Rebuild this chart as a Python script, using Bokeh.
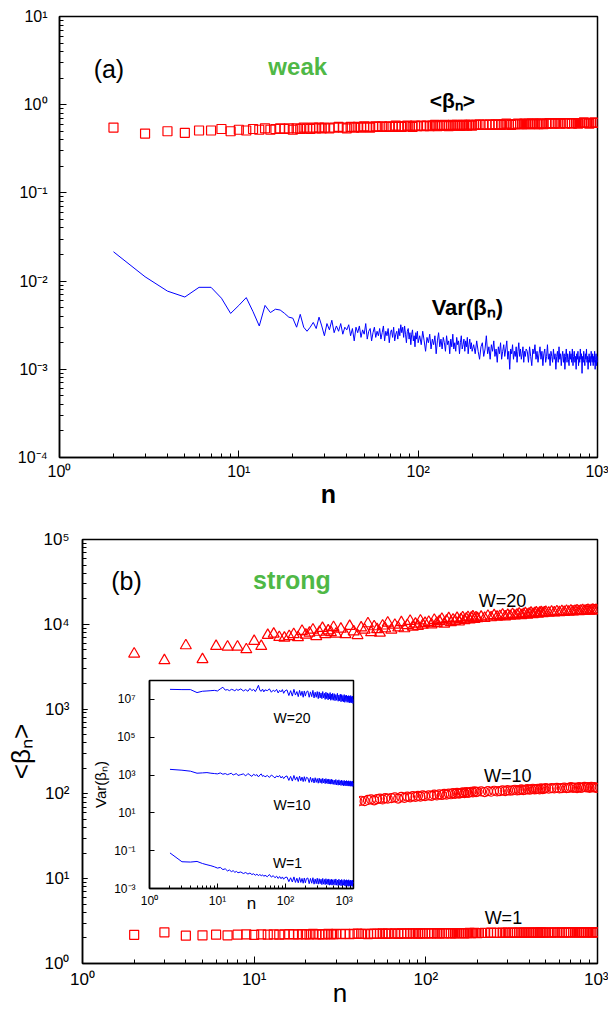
from bokeh.plotting import figure
from bokeh.models import FixedTicker, CustomJSTickFormatter, Label, Range1d
from bokeh.embed import file_html
from bokeh.resources import INLINE

FONT = "Liberation Sans"
GREEN = "#4fb846"
RED = "#ff0000"
BLUE = "#0000ff"

# ---------------- data ----------------
# n samples used for the marker series (panels a and b)
n_marker = (list(range(2, 31)) + list(range(32, 61, 2)) + list(range(63, 100, 3))
            + list(range(104, 201, 4)) + list(range(210, 501, 10)) + list(range(520, 1001, 20)))
# n samples used for Var line of panel (a)
n_var = (list(range(2, 101)) + list(range(102, 201, 2)) + list(range(204, 401, 4))
         + list(range(406, 1001, 6)))
# n samples used for inset lines
n_inset = (list(range(2, 21)) + list(range(22, 51, 2)) + list(range(54, 99, 4))
           + list(range(105, 204, 7)) + list(range(213, 504, 10)) + list(range(520, 1001, 15)))

# panel (a): <beta_n>, weak disorder
mean_weak = [
    0.55, 0.47, 0.50, 0.48, 0.51, 0.51, 0.53, 0.50, 0.52, 0.51, 0.53, 0.52, 0.54, 0.52, 0.53,
    0.54, 0.53, 0.54, 0.52, 0.54, 0.53, 0.55, 0.54, 0.53, 0.55, 0.54, 0.55, 0.54, 0.55,
    0.54, 0.55, 0.56, 0.55, 0.54, 0.56, 0.55, 0.56, 0.55, 0.57, 0.56, 0.55, 0.56, 0.57, 0.56,
    0.57, 0.56, 0.57, 0.56, 0.58, 0.57, 0.56, 0.57, 0.58, 0.57, 0.56, 0.58, 0.57,
    0.58, 0.57, 0.58, 0.57, 0.58, 0.59, 0.57, 0.58, 0.58, 0.59, 0.58, 0.57, 0.58, 0.59, 0.58,
    0.59, 0.58, 0.58, 0.59, 0.58, 0.59, 0.58, 0.59, 0.59, 0.58,
    0.59, 0.60, 0.59, 0.59, 0.60, 0.59, 0.60, 0.60, 0.59, 0.60, 0.61, 0.60, 0.59, 0.60, 0.60,
    0.61, 0.60, 0.60, 0.61, 0.60, 0.61, 0.60, 0.61, 0.61, 0.60, 0.61, 0.60, 0.61, 0.61, 0.60,
    0.61, 0.62, 0.61, 0.61, 0.62, 0.61, 0.62, 0.61, 0.62, 0.62, 0.61, 0.62, 0.62, 0.61, 0.62,
    0.62, 0.63, 0.62, 0.62, 0.61, 0.62, 0.62, 0.63, 0.62, 0.62,
]

# panel (a): Var(beta_n), weak disorder
var_weak = [
    0.0215, 0.0112, 0.0077, 0.0066, 0.0085, 0.0085, 0.0064, 0.0043, 0.0053, 0.0065, 0.0045, 0.0031,
    0.0053, 0.0044, 0.0048, 0.0047, 0.0043, 0.0039, 0.0038, 0.0030, 0.0042, 0.0030, 0.0027, 0.0030,
    0.0034, 0.0029, 0.0039, 0.0031, 0.0024, 0.0033, 0.0028, 0.0036, 0.0026, 0.0031, 0.0027, 0.0033,
    0.0025, 0.0030, 0.0028,
    0.0032, 0.0024, 0.0029, 0.0021, 0.0030, 0.0026, 0.0031, 0.0023, 0.0028, 0.0025,
    0.0033, 0.0022, 0.0027, 0.0029, 0.0021, 0.0026, 0.0030, 0.0023, 0.0027, 0.0024,
    0.0029, 0.0022, 0.0026, 0.0031, 0.0021, 0.0027, 0.0024, 0.0029, 0.0020, 0.0026,
    0.0028, 0.0023, 0.0030, 0.0021, 0.0025, 0.0027, 0.0022, 0.0029, 0.0024, 0.0032,
    0.0026, 0.0030, 0.0023, 0.0031, 0.0025, 0.0020, 0.0027, 0.0029, 0.0022, 0.0026,
    0.0019, 0.0025, 0.0028, 0.0021, 0.0024, 0.0018, 0.0026, 0.0022, 0.0027, 0.0020,
    0.0024, 0.0019, 0.0027, 0.0021, 0.0016, 0.0023, 0.0020, 0.0025, 0.0017, 0.0022,
    0.0019, 0.0024, 0.0015, 0.0021, 0.0026, 0.0018, 0.0022, 0.0017, 0.0023, 0.0020,
    0.0016, 0.0024, 0.0019, 0.0021, 0.0015, 0.0022, 0.0018, 0.0025, 0.0017, 0.0020,
    0.0016, 0.0023, 0.0019, 0.0021, 0.0015, 0.0020, 0.0024, 0.0017, 0.0019, 0.0022,
    0.0016, 0.0021, 0.0018, 0.0023, 0.0015, 0.0019, 0.0022, 0.0017, 0.0020, 0.0016,
    0.0019, 0.0015, 0.0021, 0.0016, 0.0013, 0.0018, 0.0020, 0.0014, 0.0017, 0.0024,
    0.0015, 0.0018, 0.0013, 0.0019, 0.0016, 0.0021, 0.0014, 0.0017, 0.0012, 0.0018,
    0.0015, 0.0020, 0.0013, 0.0016, 0.0019, 0.0014, 0.0017, 0.0021, 0.0013, 0.0016,
    0.0010, 0.0017, 0.0015, 0.0019, 0.0013, 0.0016, 0.0014, 0.0018, 0.0012, 0.0016,
    0.0020, 0.0014, 0.0017, 0.0013, 0.0015, 0.0018, 0.0012, 0.0016, 0.0014, 0.0017,
    0.0016, 0.0012, 0.0018, 0.0014, 0.0011, 0.0017, 0.0015, 0.0019, 0.0013, 0.0016,
    0.0012, 0.0015, 0.0018, 0.0013, 0.0016, 0.0011, 0.0015, 0.0017, 0.0012, 0.0014,
    0.0019, 0.0013, 0.0015, 0.0011, 0.0016, 0.0014, 0.0012, 0.0017, 0.0013, 0.0015,
    0.0010, 0.0014, 0.0016, 0.0012, 0.0018, 0.0013, 0.0015, 0.0011, 0.0014, 0.0016,
    0.0012, 0.0015, 0.0010, 0.0014, 0.0017, 0.0012, 0.0015, 0.0013, 0.0011, 0.0016,
    0.0013, 0.0015, 0.0012, 0.0017, 0.0011, 0.0014, 0.0016, 0.0012, 0.0014, 0.0010,
    0.0015, 0.0013, 0.0016, 0.0011, 0.0014, 0.0012, 0.0017, 0.0013, 0.0015, 0.0009,
    0.0014, 0.0012, 0.0016, 0.0013, 0.0011, 0.0015, 0.0013, 0.0017, 0.0012, 0.0014,
    0.0010, 0.0013, 0.0015, 0.0012, 0.0014, 0.0011, 0.0016, 0.0013, 0.0012, 0.0015,
    0.0011, 0.0014, 0.0012, 0.0016, 0.0010, 0.0013, 0.0015, 0.0011, 0.0014, 0.0012,
]

# panel (b): <beta_n>, strong disorder, W = 20, 10, 1
mean_w20 = [
    4480, 3740, 5610, 3850, 5510, 5410, 5410, 5040, 6310, 5510, 7430, 7690, 7030, 6900, 7200,
    7600, 7000, 8300, 7500, 7900, 8600, 7200, 8100, 9000, 7600, 8400, 8000, 9200, 7700,
    8800, 7600, 9500, 8200, 7400, 9100, 8600, 10200, 8000, 9400, 8700, 7900, 9600, 8900, 10400,
    8600, 9800, 9100, 10500, 8900, 9700, 10900, 9300, 10100, 9500, 11000, 9800, 10300,
    10600, 9900, 11200, 10300, 10800, 11500, 10100, 11000, 11700, 10500,
    11300, 10900, 11800, 10700, 11400, 12000, 11100, 11600, 12100, 11300,
    11900, 12300, 11500, 12000, 11700,
    12200, 11800, 12500, 12000, 12700, 12200, 12400, 12900, 12300, 12800,
    12500, 13100, 12600, 12900, 13300, 12700, 13100, 13400, 12900, 13300,
    13600, 13100, 13400, 13700, 13200, 13600, 13800, 13400, 13700, 13900,
    13600, 14000, 13700, 14100, 13800, 14200, 13900, 14300, 14000, 14400,
    14100, 14300, 14500, 14200, 14400, 14600, 14300, 14500, 14700, 14400,
    14600, 14800, 14500, 14700, 14500,
]
mean_w10 = [
    50, 47, 53, 52, 55, 57, 56, 59, 60, 58, 62, 63, 61, 65, 64, 66, 67, 65, 69, 68,
    70, 71, 69, 72, 73, 71, 74, 75, 73,
    76, 78, 77, 82, 81, 83, 82, 85, 86, 84, 87, 88, 86, 89, 88,
    89, 91, 88, 92, 90, 93, 91, 94, 92, 95, 93, 96, 94,
    96, 95, 98, 96, 99, 97, 100, 98, 101, 99, 102, 100, 103, 101, 102, 104, 102, 105, 103, 104,
    106, 104, 107, 105, 106,
    107, 105, 108, 106, 109, 107, 108, 110, 108, 111, 109, 110, 112, 110, 111,
    113, 111, 112, 114, 112, 113, 115, 113, 114, 115, 113, 116, 114, 115, 117,
    115, 117, 116, 118, 116, 117, 119, 117, 118, 120, 118, 119, 117, 120, 118,
    119, 121, 119, 120, 118, 121, 119, 120, 118, 118,
]
mean_w1 = [
    2.18, 2.33, 2.13, 2.15, 2.19, 2.15, 2.19, 2.20, 2.18, 2.20, 2.19, 2.21, 2.19, 2.20, 2.22,
    2.20, 2.21, 2.22, 2.20, 2.21, 2.23, 2.21, 2.22, 2.20, 2.22, 2.23, 2.21, 2.22, 2.23,
    2.22, 2.24, 2.22, 2.23, 2.25, 2.23, 2.24, 2.22, 2.24, 2.25, 2.23, 2.24, 2.26, 2.24, 2.25,
    2.25, 2.26, 2.24, 2.26, 2.27, 2.25, 2.26, 2.27, 2.26, 2.25, 2.27, 2.26, 2.27,
    2.27, 2.26, 2.28, 2.27, 2.26, 2.28, 2.27, 2.28, 2.29, 2.27, 2.28, 2.27, 2.29, 2.28, 2.29,
    2.28, 2.27, 2.29, 2.28, 2.30, 2.28, 2.29, 2.30, 2.29, 2.28,
    2.29, 2.30, 2.29, 2.31, 2.30, 2.29, 2.30, 2.31, 2.30, 2.31, 2.30, 2.32, 2.30, 2.31, 2.31,
    2.30, 2.32, 2.31, 2.31, 2.32, 2.30, 2.31, 2.32, 2.31, 2.32, 2.31, 2.33, 2.31, 2.32, 2.32,
    2.32, 2.31, 2.33, 2.32, 2.32, 2.33, 2.31, 2.32, 2.33, 2.32, 2.34, 2.32, 2.33, 2.32, 2.33,
    2.34, 2.32, 2.33, 2.33, 2.34, 2.32, 2.33, 2.34, 2.33, 2.33,
]

# inset: Var(beta_n), strong disorder
var_w20 = [
    3.4e7, 3.3e7, 3.3e7, 2.3e7, 2.7e7, 2.8e7, 2.9e7, 3.0e7, 2.8e7, 3.6e7,
    4.4e7, 3.1e7, 3.3e7, 2.9e7, 3.4e7, 3.2e7, 2.8e7, 3.5e7, 3.0e7,
    3.6e7, 2.8e7, 3.3e7, 2.7e7, 3.8e7, 2.9e7, 3.4e7, 2.6e7, 3.7e7, 5.6e7, 3.0e7, 2.7e7, 3.5e7,
    2.5e7, 3.2e7,
    2.9e7, 3.6e7, 2.4e7, 3.1e7, 2.6e7, 3.4e7, 2.2e7, 3.0e7, 2.5e7, 3.3e7, 2.1e7, 2.8e7,
    3.2e7, 1.6e7, 2.9e7, 1.5e7, 3.4e7, 1.7e7, 2.6e7, 1.4e7, 3.0e7, 1.6e7, 2.7e7, 1.3e7, 2.8e7,
    1.5e7, 2.5e7,
    2.8e7, 1.3e7, 2.5e7, 1.4e7, 3.0e7, 1.2e7, 2.4e7, 1.3e7, 2.6e7, 1.1e7,
    2.5e7, 1.2e7, 2.2e7, 1.1e7, 2.6e7, 1.2e7, 2.1e7, 1.0e7, 2.4e7, 1.1e7,
    2.2e7, 0.95e7, 2.0e7, 1.05e7, 2.3e7, 0.9e7, 1.9e7, 1.0e7, 2.1e7, 0.9e7,
    2.0e7, 0.85e7, 1.8e7, 0.9e7, 2.1e7, 0.8e7, 1.7e7, 0.85e7, 1.9e7, 0.75e7,
    1.8e7, 0.8e7, 1.6e7, 0.75e7, 1.8e7, 0.7e7, 1.6e7, 0.8e7, 1.7e7, 0.7e7,
    1.5e7, 0.75e7, 1.6e7, 0.65e7, 1.5e7, 0.7e7, 1.6e7, 0.65e7, 1.4e7, 0.7e7,
    1.5e7, 0.6e7, 1.0e7,
]
var_w10 = [
    2000, 1800, 1600, 1250, 1300, 1350, 1250, 1200, 1150, 1300,
    1100, 1200, 1050, 1150, 1250, 1000, 1100, 1200, 950,
    1050, 1150, 900, 1200, 1000, 850, 1100, 950, 1050, 800, 1000, 1150, 850, 950, 800,
    950, 750, 1000, 850, 700, 900, 800, 950, 700, 850, 650, 800,
    900, 520, 850, 480, 950, 540, 800, 460, 880, 500, 780, 450, 820, 470, 760,
    700, 400, 760, 420, 680, 380, 720, 410, 650, 370,
    690, 390, 630, 360, 670, 380, 610, 350, 650, 370,
    590, 340, 620, 350, 570, 330, 600, 340, 560, 320,
    540, 310, 580, 300, 520, 290, 560, 300, 500, 280,
    540, 290, 490, 270, 520, 280, 480, 265, 510, 275,
    470, 260, 500, 270, 460, 255, 490, 265, 450, 250,
    480, 255, 380,
]
var_w1 = [
    0.076, 0.026, 0.025, 0.027, 0.021, 0.018, 0.016, 0.014, 0.012, 0.013,
    0.010, 0.011, 0.0085, 0.0095, 0.0078, 0.0088, 0.0072, 0.0080, 0.0068,
    0.0075, 0.0062, 0.0070, 0.0058, 0.0066, 0.0055, 0.0060, 0.0050, 0.0058, 0.0047,
    0.0056, 0.0046, 0.0053, 0.0044, 0.0050,
    0.0042, 0.0055, 0.0040, 0.0048, 0.0037, 0.0045, 0.0034, 0.0043, 0.0033, 0.0041, 0.0031, 0.0038,
    0.0040, 0.0023, 0.0037, 0.0022, 0.0041, 0.0021, 0.0035, 0.0020, 0.0038, 0.0021,
    0.0034, 0.0019, 0.0036, 0.0020, 0.0033,
    0.0036, 0.0018, 0.0034, 0.0019, 0.0037, 0.0017, 0.0032, 0.0018, 0.0035, 0.0017,
    0.0033, 0.0018, 0.0031, 0.0016, 0.0034, 0.0017, 0.0030, 0.0016, 0.0033, 0.0017,
    0.0030, 0.0016, 0.0032, 0.0015, 0.0029, 0.0016, 0.0031, 0.0015, 0.0029, 0.0016,
    0.0030, 0.0015, 0.0032, 0.0015, 0.0028, 0.0014, 0.0031, 0.0015, 0.0028, 0.0014,
    0.0030, 0.0014, 0.0027, 0.0015, 0.0030, 0.0014, 0.0027, 0.0013, 0.0029, 0.0014,
    0.0027, 0.0013, 0.0029, 0.0014, 0.0026, 0.0013, 0.0028, 0.0014, 0.0026, 0.0013,
    0.0028, 0.0013, 0.0022,
]

for arr in (mean_weak, mean_w20, mean_w10, mean_w1):
    assert len(arr) == len(n_marker), (len(arr), len(n_marker))
assert len(var_weak) == len(n_var), (len(var_weak), len(n_var))
for arr in (var_w20, var_w10, var_w1):
    assert len(arr) == len(n_inset), (len(arr), len(n_inset))

# tick values
x_major = [1, 10, 100, 1000]
x_minor = [k * 10 ** e for e in range(0, 3) for k in range(2, 10)]
ya_major = [1e-4, 1e-3, 1e-2, 1e-1, 1, 10]
ya_minor = [k * 10.0 ** e for e in range(-4, 1) for k in range(2, 10)]
yb_major = [1, 10, 100, 1000, 1e4, 1e5]
yb_minor = [k * 10.0 ** e for e in range(0, 5) for k in range(2, 10)]
yi_major = [1e-3, 1e-1, 10, 1e3, 1e5, 1e7]

SUP_JS = """
const e = Math.round(Math.log10(tick));
const m = {"-": "\u207b", "0": "\u2070", "1": "\u00b9", "2": "\u00b2", "3": "\u00b3",
           "4": "\u2074", "5": "\u2075", "6": "\u2076", "7": "\u2077", "8": "\u2078", "9": "\u2079"};
let s = "10" + String(e).split("").map(c => m[c]).join("");
%s
return s;
"""
fmt = CustomJSTickFormatter(code=SUP_JS % "")
fmt_inset_x = CustomJSTickFormatter(code=SUP_JS % 'if (e == 3) { s = s + "\u00a0\u00a0"; }')


def style(p, tick_font, major_in=7, minor_in=4):
    p.grid.visible = False
    p.outline_line_color = "black"
    p.outline_line_width = 1.5
    p.outline_line_alpha = 1.0
    p.background_fill_color = "white"
    p.border_fill_color = "white"
    for ax in p.axis:
        ax.axis_line_color = "black"
        ax.axis_line_width = 1.5
        ax.major_tick_line_color = "black"
        ax.minor_tick_line_color = "black"
        ax.major_tick_in = major_in
        ax.major_tick_out = 0
        ax.minor_tick_in = minor_in
        ax.minor_tick_out = 0
        ax.major_label_text_font = FONT
        ax.major_label_text_font_size = tick_font
        ax.major_label_text_color = "black"
        ax.axis_label_text_font = FONT
        ax.axis_label_text_color = "black"


def add_text(p, x, y, text, size, bold=False, color="black", align="center"):
    p.add_layout(Label(x=x, y=y, text=text, text_font=FONT, text_font_size=f"{size}px",
                       text_font_style="bold" if bold else "normal", text_color=color,
                       text_align=align, text_baseline="alphabetic"))


def place(p, left, top):
    p.styles = {"position": "absolute", "left": f"{left}px", "top": f"{top}px"}


# ---------------- panel (a) ----------------
# frame: x 59..597, y 16..457 (page pixels)
A_L, A_R, A_T, A_B = 70, 11, 16, 62
pa = figure(width=A_L + 538 + A_R, height=A_T + 441 + A_B, x_axis_type="log", y_axis_type="log",
            x_range=Range1d(1, 1000), y_range=Range1d(1e-4, 10),
            output_backend="svg", toolbar_location=None,
            min_border_left=A_L, min_border_right=A_R, min_border_top=A_T, min_border_bottom=A_B)
style(pa, "16px")
pa.xaxis.ticker = FixedTicker(ticks=x_major, minor_ticks=x_minor)
pa.yaxis.ticker = FixedTicker(ticks=ya_major, minor_ticks=ya_minor)
pa.xaxis.formatter = fmt
pa.yaxis.formatter = fmt
pa.xaxis.major_label_standoff = 5
pa.yaxis.major_label_standoff = 12
pa.xaxis.axis_label = "n"
pa.xaxis.axis_label_text_font_size = "25px"
pa.xaxis.axis_label_text_font_style = "bold"
pa.xaxis.axis_label_standoff = -3

pa.line(n_var, var_weak, line_color=BLUE, line_width=1)
pa.scatter(n_marker, mean_weak, marker="square", size=9, fill_color=None,
           line_color=RED, line_width=1.2)

add_text(pa, 1.55, 2.57, "(a)", 25, align="left")
add_text(pa, 21.3, 2.71, "weak", 24, bold=True, color=GREEN)
add_text(pa, 155, 1.116, "<βₙ>", 21, bold=True)
add_text(pa, 188, 0.00502, "Var(βₙ)", 22, bold=True)
place(pa, 59 - A_L, 0)

# ---------------- panel (b) ----------------
# frame: x 82..597, y 539..963 (page pixels)
B_L, B_R, B_T, B_B = 90, 11, 29, 50
pb = figure(width=B_L + 515 + B_R, height=B_T + 424 + B_B, x_axis_type="log", y_axis_type="log",
            x_range=Range1d(1, 1000), y_range=Range1d(1, 1e5),
            output_backend="svg", toolbar_location=None,
            min_border_left=B_L, min_border_right=B_R, min_border_top=B_T, min_border_bottom=B_B)
style(pb, "17px")
pb.xaxis.ticker = FixedTicker(ticks=x_major, minor_ticks=x_minor)
pb.yaxis.ticker = FixedTicker(ticks=yb_major, minor_ticks=yb_minor)
pb.xaxis.formatter = fmt
pb.yaxis.formatter = fmt
pb.xaxis.major_label_standoff = 6
pb.yaxis.major_label_standoff = 13
pb.xaxis.axis_label = "n"
pb.xaxis.axis_label_text_font_size = "26px"
pb.xaxis.axis_label_text_font_style = "normal"
pb.xaxis.axis_label_standoff = -14
pb.yaxis.axis_label = "<βₙ>"
pb.yaxis.axis_label_text_font_size = "26px"
pb.yaxis.axis_label_text_font_style = "normal"
pb.yaxis.axis_label_standoff = 4

pb.scatter(n_marker, mean_w20, marker="triangle", size=11, fill_color=None,
           line_color=RED, line_width=1.2)
pb.scatter(n_marker, mean_w10, marker="circle", size=9, fill_color=None,
           line_color=RED, line_width=1.2)
pb.scatter(n_marker, mean_w1, marker="square", size=9, fill_color=None,
           line_color=RED, line_width=1.2)

add_text(pb, 1.47, 32100, "(b)", 25, align="left")
add_text(pb, 16.6, 33000, "strong", 25, bold=True, color=GREEN)
add_text(pb, 280, 18700, "W=20", 18)
add_text(pb, 300, 163, "W=10", 18)
add_text(pb, 283, 3.48, "W=1", 18)
place(pb, 82 - B_L, 539 - B_T)

# ---------------- inset ----------------
# frame: x 149..353, y 680..891 (page pixels)
I_L, I_R, I_T, I_B = 62, 6, 4, 24
ins = figure(width=I_L + 204 + I_R, height=I_T + 211 + I_B,
             x_axis_type="log", y_axis_type="log",
             x_range=Range1d(1, 1000), y_range=Range1d(1e-3, 1e8),
             output_backend="svg", toolbar_location=None,
             min_border_left=I_L, min_border_right=I_R,
             min_border_top=I_T, min_border_bottom=I_B)
style(ins, "12px", major_in=5, minor_in=3)
ins.xaxis.ticker = FixedTicker(ticks=x_major, minor_ticks=x_minor)
ins.yaxis.ticker = FixedTicker(ticks=yi_major, minor_ticks=[])
ins.xaxis.formatter = fmt_inset_x
ins.yaxis.formatter = fmt
ins.xaxis.major_label_standoff = 5
ins.xaxis.axis_label = "n"
ins.xaxis.axis_label_text_font_size = "17px"
ins.xaxis.axis_label_text_font_style = "normal"
ins.xaxis.axis_label_standoff = -17
ins.yaxis.major_label_standoff = 14
ins.yaxis.axis_label = "Var(βₙ)"
ins.yaxis.axis_label_text_font_size = "15px"
ins.yaxis.axis_label_text_font_style = "normal"
ins.yaxis.axis_label_standoff = 2

ins.line(n_inset, var_w20, line_color=BLUE, line_width=1)
ins.line(n_inset, var_w10, line_color=BLUE, line_width=1)
ins.line(n_inset, var_w1, line_color=BLUE, line_width=1)

add_text(ins, 125, 1.0e6, "W=20", 14)
add_text(ins, 125, 26.3, "W=10", 14)
add_text(ins, 107, 0.0234, "W=1", 14)
place(ins, 149 - I_L, 680 - I_T)

open("out.html", "w").write(file_html([pa, pb, ins], INLINE))
